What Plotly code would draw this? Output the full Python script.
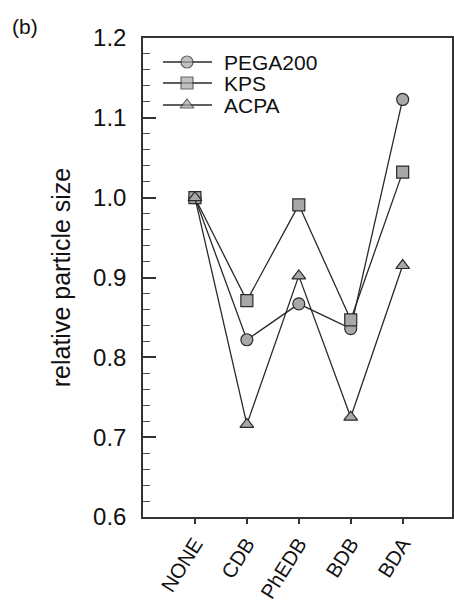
import plotly.graph_objects as go

categories = ["NONE", "CDB", "PhEDB", "BDB", "BDA"]
pega200 = [1.0, 0.822, 0.867, 0.836, 1.123]
kps = [1.0, 0.871, 0.991, 0.847, 1.032]
acpa = [1.0, 0.716, 0.902, 0.725, 0.915]

series = [("PEGA200", pega200, "circle"), ("KPS", kps, "square"), ("ACPA", acpa, "triangle-up")]

LINE = dict(color="#2a2a2a", width=1.3)
def marker(sym, size):
    return dict(symbol=sym, size=size, color="#a8a8a8", line=dict(color="#2a2a2a", width=1.2))

fig = go.Figure()
xidx = list(range(len(categories)))
for name, vals, sym in series:
    fig.add_trace(go.Scatter(
        x=xidx, y=vals, name=name, mode="lines+markers",
        line=LINE, marker=marker(sym, 12), showlegend=False,
    ))

# Manual legend on an overlay axis measured in plot-area pixels (layout only)
leg_rows = [455, 434, 412]
for (name, _, sym), yy in zip(series, leg_rows):
    fig.add_trace(go.Scatter(
        x=[20, 44, 69], y=[yy, yy, yy], mode="lines+markers",
        line=LINE, marker=dict(symbol=sym, size=[0, 12, 0], color="#a8a8a8",
                               line=dict(color="#2a2a2a", width=[0, 1.2, 0])),
        xaxis="x2", yaxis="y2", showlegend=False, hoverinfo="skip",
    ))
    fig.add_annotation(text=name, x=79, y=yy, xref="x2", yref="y2",
                       xanchor="left", yanchor="middle", showarrow=False,
                       font=dict(size=21, color="#111"))

fig.update_layout(
    width=454, height=602,
    margin=dict(l=143, r=2, t=38, b=85),
    paper_bgcolor="white", plot_bgcolor="white",
    font=dict(family="Liberation Sans, Arial, sans-serif", color="#111"),
    showlegend=False,
    xaxis2=dict(overlaying="x", range=[0, 309], visible=False, fixedrange=True),
    yaxis2=dict(overlaying="y", range=[0, 479], visible=False, fixedrange=True),
)
fig.add_annotation(text="(b)", x=-0.43, y=1.023, xref="paper", yref="paper",
                   xanchor="left", yanchor="middle", showarrow=False,
                   font=dict(size=21, color="#111"))

fig.layout.xaxis.update(
    range=[-1, 4.95], tickmode="array", tickvals=xidx, ticktext=categories,
    tickangle=-58, tickfont=dict(size=20.5), automargin=False,
    ticks="outside", ticklen=5, tickwidth=1.5, tickcolor="#333",
    showline=True, linecolor="#333", linewidth=1.5, mirror=True,
    showgrid=False, zeroline=False,
)
fig.layout.yaxis.update(
    range=[0.6, 1.2], tickmode="array", tickvals=[0.6, 0.7, 0.8, 0.9, 1.0, 1.1, 1.2],
    ticktext=["0.6", "0.7", "0.8", "0.9", "1.0", "1.1", "1.2"],
    tickfont=dict(size=24), ticklabelstandoff=10, automargin=False,
    ticks="inside", ticklen=13, tickwidth=1.5, tickcolor="#333",
    minor=dict(ticks="inside", ticklen=7, tickwidth=1.2, tickcolor="#555", dtick=0.02, showgrid=False),
    showline=True, linecolor="#333", linewidth=1.5, mirror=True,
    showgrid=False, zeroline=False,
    title=dict(text="relative particle size", font=dict(size=25), standoff=15),
)

fig.write_html("out.html")
